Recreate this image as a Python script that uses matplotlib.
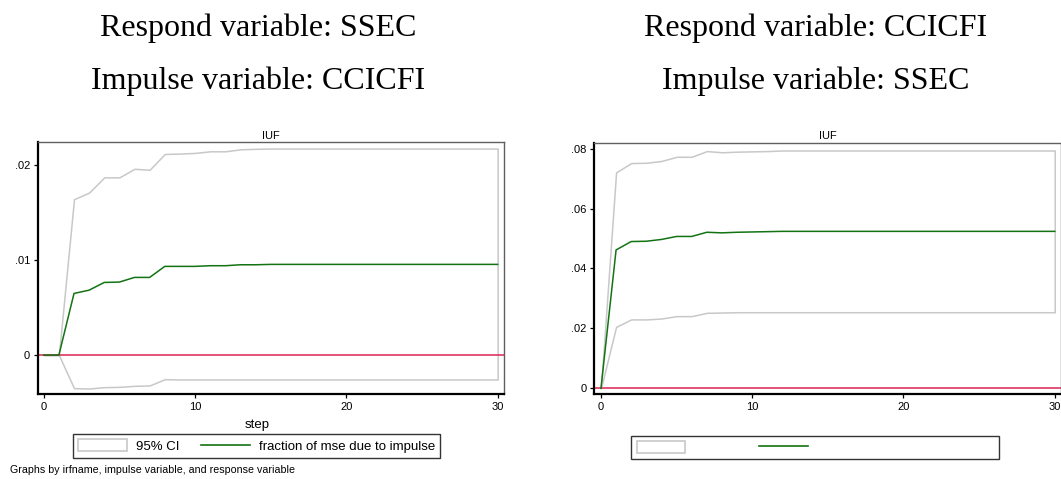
import matplotlib
matplotlib.use("Agg")
import matplotlib.pyplot as plt
from matplotlib.patches import Patch
from matplotlib.lines import Line2D

# Data ----------------------------------------------------
steps = list(range(31))

# respond SSEC, impulse CCICFI
fevd_l = [0, 0, .00648, .00683, .00764, .00768, .00817, .00817, .00933, .00933,
          .00933, .0094, .0094, .0095, .0095] + [.00954] * 16
upper_l = [0, 0, .0164, .0171, .0187, .0187, .0196, .0195, .02116, .0212,
           .02127, .02144, .02144, .02165, .0217] + [.02173] * 16
lower_l = [0, 0, -.00349, -.00352, -.00338, -.00335, -.00324, -.0032, -.00254, -.00257,
           -.00257, -.00257, -.00257, -.00257, -.00257] + [-.00257] * 16

# respond CCICFI, impulse SSEC
fevd_r = [0, .0462, .0490, .0491, .0497, .0507, .0507, .0521, .0519, .0521,
          .0522, .0523, .0524] + [.0524] * 18
upper_r = [0, .0721, .0752, .0753, .0759, .0773, .0773, .0792, .0788, .0790,
           .0791, .0792, .0794] + [.0794] * 18
lower_r = [0, .0205, .0230, .0230, .0233, .0241, .0241, .0252, .0253, .0254,
           .0254, .0254, .0254] + [.0254] * 18

yticks_l = [0, .01, .02]
ylabels_l = ['0', '.01', '.02']
yticks_r = [0, .02, .04, .06, .08]
ylabels_r = ['0', '.02', '.04', '.06', '.08']
xticks = [0, 10, 20, 30]

titles_l = ['Respond variable: SSEC', 'Impulse variable: CCICFI']
titles_r = ['Respond variable: CCICFI', 'Impulse variable: SSEC']

# Style ---------------------------------------------------
W, H = 1061, 479
plt.rcParams['font.family'] = ['Liberation Sans', 'DejaVu Sans']
ci_col = '#c8c8c8'
green = '#137313'
red = '#dc2355'


def px_axes(fig, x0, y0, x1, y1):
    return fig.add_axes([x0 / W, 1 - y1 / H, (x1 - x0) / W, (y1 - y0) / H])


def panel(ax, fevd, lo, hi, yticks, ylabels, ylim, xlim):
    ax.fill_between(steps, lo, hi, facecolor='white', edgecolor=ci_col, lw=1.1, zorder=1)
    ax.axhline(0, color=red, lw=1.1, zorder=2)
    ax.plot(steps, fevd, color=green, lw=1.1, zorder=3)
    ax.set_xlim(*xlim)
    ax.set_ylim(*ylim)
    ax.set_xticks(xticks)
    ax.set_xticklabels([str(t) for t in xticks])
    ax.set_yticks(yticks)
    ax.set_yticklabels(ylabels)
    ax.tick_params(labelsize=8, length=3, width=0.9, pad=2.5, colors='black')
    for s in ['left', 'bottom']:
        ax.spines[s].set_linewidth(1.6)
        ax.spines[s].set_color('black')
    for s in ['top', 'right']:
        ax.spines[s].set_linewidth(1.0)
        ax.spines[s].set_color('#606060')
    ax.set_title('IUF', fontsize=8, pad=2.5)


fig = plt.figure(figsize=(W / 100, H / 100), dpi=100)

ax1 = px_axes(fig, 37.7, 142, 504, 394)
panel(ax1, fevd_l, lower_l, upper_l, yticks_l, ylabels_l, (-0.0041, 0.02242), (-0.4, 30.42))

ax2 = px_axes(fig, 594.3, 142.7, 1060.5, 394)
panel(ax2, fevd_r, lower_r, upper_r, yticks_r, ylabels_r, (-0.0019, 0.082), (-0.44, 30.38))

# Titles --------------------------------------------------
for (cx, lines) in [(258, titles_l), (816, titles_r)]:
    for base, txt in zip([36, 89], lines):
        fig.text(cx / W, 1 - base / H, txt, ha='center', va='baseline',
                 fontsize=23, family=['Liberation Serif', 'DejaVu Serif'])

fig.text(257 / W, 1 - 428 / H, 'step', ha='center', va='baseline', fontsize=9.5)
fig.text(10 / W, 1 - 470 / H, 'Graphs by irfname, impulse variable, and response variable',
         ha='left', va='center', fontsize=7.7)

# Legends -------------------------------------------------
handles = [Patch(facecolor='white', edgecolor=ci_col, lw=1.2),
           Line2D([0], [0], color=green, lw=1.2)]
labels = ['95% CI', 'fraction of mse due to impulse']
leg_kw = dict(loc='center', ncol=2, fontsize=9.5, frameon=True, fancybox=False,
              edgecolor='black', handlelength=3.7, handleheight=1.0,
              handletextpad=0.7, columnspacing=1.6, borderpad=0.4)

leg1 = fig.legend(handles, labels, bbox_to_anchor=(256.5 / W, 1 - 446 / H), **leg_kw)
leg1.get_frame().set_linewidth(1.0)

leg2 = fig.legend(handles, labels, bbox_to_anchor=(815 / W, 1 - 447.5 / H), **leg_kw)
leg2.get_frame().set_linewidth(1.0)
for t in leg2.get_texts():
    t.set_alpha(0)

fig.savefig('out.png', dpi=100)
